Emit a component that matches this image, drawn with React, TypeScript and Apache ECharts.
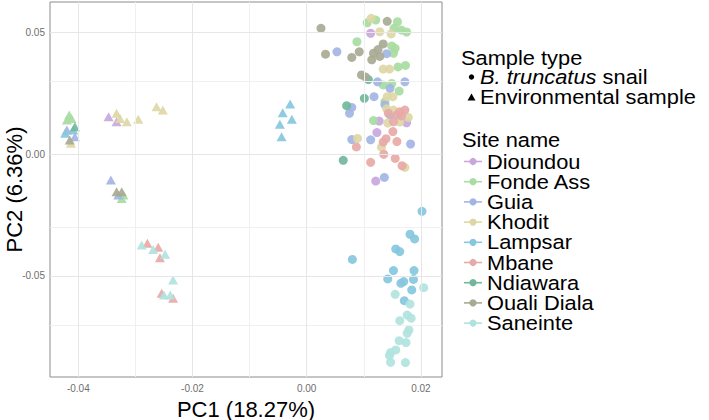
import { useEffect, useRef } from "react";
import * as echarts from "echarts";

const FONT = "'Liberation Sans', Arial, Helvetica, sans-serif";

const siteNames = [
  "Dioundou",
  "Fonde Ass",
  "Guia",
  "Khodit",
  "Lampsar",
  "Mbane",
  "Ndiawara",
  "Ouali Diala",
  "Saneinte",
];
const siteColors = [
  "#c8a7dd",
  "#a8dca2",
  "#a3b5e3",
  "#ddd7a6",
  "#86c7de",
  "#e7a9a7",
  "#72b79b",
  "#a8aa94",
  "#b1e3de",
];

// PC1 / PC2 scores, B. truncatus snail samples
const dioundouSnail = [[0.0112, 0.0495], [0.0127, 0.0135], [0.0175, 0.0128], [0.0123, 0.0088], [0.0121, -0.0111]];
const fondeAssSnail = [
  [0.0106, 0.0538], [0.0121, 0.0549], [0.0159, 0.0542], [0.0153, 0.0515], [0.0166, 0.0508], [0.0175, 0.05],
  [0.0088, 0.046], [0.0149, 0.0443], [0.0155, 0.0433], [0.0152, 0.0413], [0.016, 0.0357], [0.0173, 0.0363],
  [0.0134, 0.0283], [0.0149, 0.0289], [0.0162, 0.0258], [0.0137, 0.0214], [0.0117, 0.0137],
];
const guiaSnail = [
  [0.0053, 0.0419], [0.014, 0.0411], [0.0124, 0.0296], [0.0172, 0.0296], [0.0146, 0.0269], [0.0118, 0.0235],
  [0.0137, 0.0202], [0.0079, 0.0191], [0.0075, 0.0167], [0.0146, 0.016], [0.0079, 0.0059], [0.0112, 0.0058],
  [0.0182, 0.0041], [0.0136, -0.0096],
];
const khoditSnail = [
  [0.0113, 0.0556], [0.0128, 0.0501], [0.0148, 0.0492], [0.0134, 0.0348], [0.0145, 0.0348], [0.0141, 0.0235],
  [0.0151, 0.0235], [0.014, 0.0185], [0.0152, 0.018], [0.0178, 0.015], [0.0142, 0.0127], [0.0163, 0.0131],
  [0.0089, 0.0064], [0.0131, 0.0028], [0.0172, -0.0055],
];
const lampsarSnail = [
  [0.0202, -0.0235], [0.0181, -0.0329], [0.0189, -0.0348], [0.0156, -0.0389], [0.0163, -0.04], [0.008, -0.0432],
  [0.0152, -0.0478], [0.0188, -0.0478], [0.0142, -0.0512], [0.0165, -0.053], [0.017, -0.0523], [0.0187, -0.0514],
  [0.0184, -0.0557], [0.0171, -0.0601],
];
const mbaneSnail = [
  [0.0143, 0.0167], [0.0158, 0.016], [0.0163, 0.0173], [0.0172, 0.018], [0.0166, 0.0156], [0.0152, 0.0132],
  [0.0151, 0.0092], [0.0139, 0.0063], [0.0134, 0.0049], [0.0158, 0.0051], [0.0087, 0.0029], [0.0135, -0.0001],
  [0.0155, -0.0018], [0.0112, -0.0034], [0.0167, -0.0048],
];
const ndiawaraSnail = [[0.0108, 0.0305], [0.0101, 0.0228], [0.007, 0.0198], [0.0064, -0.0026]];
const oualiDialaSnail = [
  [0.0025, 0.0515], [0.0141, 0.0544], [0.0033, 0.0409], [0.0079, 0.0396], [0.0092, 0.0419], [0.0134, 0.0451],
  [0.0125, 0.0428], [0.0117, 0.0413], [0.0128, 0.04], [0.0114, 0.0386], [0.0096, 0.0324], [0.0103, 0.0316],
];
const saneinteSnail = [
  [0.0205, -0.0548], [0.0155, -0.0575], [0.0181, -0.0615], [0.0176, -0.066], [0.0183, -0.0673], [0.0163, -0.0683],
  [0.0179, -0.0721], [0.0176, -0.0735], [0.0162, -0.0765], [0.0174, -0.0773], [0.0156, -0.0803], [0.0147, -0.0814],
  [0.0145, -0.0826], [0.0147, -0.0854], [0.0173, -0.0855],
];

// PC1 / PC2 scores, environmental samples
const dioundouEnv = [[-0.0347, 0.0153], [-0.0333, 0.0132]];
const fondeAssEnv = [[-0.0416, 0.016], [-0.0412, 0.0146], [-0.042, 0.0139], [-0.0324, -0.0182], [-0.0321, -0.0168]];
const guiaEnv = [[-0.042, 0.0098], [-0.0406, 0.0071], [-0.0343, -0.0107], [-0.033, -0.0168]];
const khoditEnv = [
  [-0.0413, 0.0044], [-0.0333, 0.0167], [-0.0327, 0.0146], [-0.0315, 0.0132], [-0.0295, 0.0142],
  [-0.0263, 0.0194], [-0.0252, 0.018],
];
const lampsarEnv = [
  [-0.0409, 0.0098], [-0.0423, 0.0085], [-0.0029, 0.0205], [-0.0042, 0.0169], [-0.0026, 0.0142],
  [-0.0047, 0.0122], [-0.0044, 0.0071],
];
const mbaneEnv = [[-0.0279, -0.0366], [-0.026, -0.0382], [-0.0257, -0.0425], [-0.0254, -0.0571], [-0.0234, -0.0591]];
const ndiawaraEnv = [[-0.0406, 0.0112]];
const oualiDialaEnv = [[-0.0415, 0.0057], [-0.0333, -0.0155], [-0.0324, -0.0155]];
const saneinteEnv = [
  [-0.0289, -0.0373], [-0.0269, -0.0391], [-0.0248, -0.0411], [-0.0234, -0.0516], [-0.025, -0.0578],
  [-0.0239, -0.0578],
];

const snailScores = [
  dioundouSnail, fondeAssSnail, guiaSnail, khoditSnail, lampsarSnail,
  mbaneSnail, ndiawaraSnail, oualiDialaSnail, saneinteSnail,
];
const envScores = [
  dioundouEnv, fondeAssEnv, guiaEnv, khoditEnv, lampsarEnv,
  mbaneEnv, ndiawaraEnv, oualiDialaEnv, saneinteEnv,
];

// axis extents, tick labels and grid lines
const xRange = [-0.04496, 0.0237];
const yRange = [-0.0914, 0.0623];
const xTicks = [-0.04, -0.02, 0, 0.02];
const xMinorGrid = [-0.03, -0.01, 0.01];
const yTicks = [-0.05, 0, 0.05];
const yMinorGrid = [-0.075, -0.025, 0.025];

const sampleTypes = ["B. truncatus snail", "Environmental sample"];

const LEGEND_FONT = 19.5;
const LEGEND_SCALE_X = 1.12;

function buildLegend() {
  const els: any[] = [];
  const txt = (x: number, y: number, text: string, extra: any = {}) => ({
    type: "text",
    x,
    y,
    scaleX: LEGEND_SCALE_X,
    silent: true,
    style: {
      text,
      fontSize: LEGEND_FONT,
      fontFamily: FONT,
      fill: "#000",
      align: "left",
      verticalAlign: "middle",
      textAlign: "left",
      textVerticalAlign: "middle",
      ...extra,
    },
  });

  els.push(txt(461, 58, "Sample type"));
  // shape keys
  els.push({ type: "circle", silent: true, shape: { cx: 471.5, cy: 77, r: 2.7 }, style: { fill: "#000" } });
  const [genus, species, ...rest] = sampleTypes[0].split(" ");
  els.push(
    txt(480, 77, `{i|${genus} ${species}} {n|${rest.join(" ")}}`, {
      rich: {
        i: { fontStyle: "italic", fontSize: LEGEND_FONT, fontFamily: FONT, fill: "#000" },
        n: { fontSize: LEGEND_FONT, fontFamily: FONT, fill: "#000" },
      },
    })
  );
  els.push({
    type: "polygon",
    silent: true,
    shape: { points: [[471.5, 93.5], [475.5, 100.5], [467.5, 100.5]] },
    style: { fill: "#000" },
  });
  els.push(txt(480, 97, sampleTypes[1]));

  els.push(txt(462, 140, "Site name"));
  siteNames.forEach((name, i) => {
    const y = 161.5 + i * 20.2;
    els.push({
      type: "line",
      silent: true,
      shape: { x1: 464, y1: y, x2: 482, y2: y },
      style: { stroke: siteColors[i], lineWidth: 1.6 },
    });
    els.push({ type: "circle", silent: true, shape: { cx: 473, cy: y, r: 3.6 }, style: { fill: siteColors[i] } });
    els.push(txt(487, y, name));
  });
  return els;
}

export default function App() {
  const ref = useRef<HTMLDivElement>(null);

  useEffect(() => {
    if (!ref.current) return;
    const chart = echarts.init(ref.current, null, { renderer: "svg" });

    const gridLines = {
      type: "scatter",
      data: [],
      z: 0,
      silent: true,
      markLine: {
        silent: true,
        symbol: ["none", "none"],
        label: { show: false },
        emphasis: { disabled: true },
        animation: false,
        data: [
          ...xMinorGrid.map((v) => ({ xAxis: v, lineStyle: { color: "#f0f0f0", width: 1, type: "solid" } })),
          ...yMinorGrid.map((v) => ({ yAxis: v, lineStyle: { color: "#f0f0f0", width: 1, type: "solid" } })),
          ...xTicks.map((v) => ({ xAxis: v, lineStyle: { color: "#e6e6e6", width: 1, type: "solid" } })),
          ...yTicks.map((v) => ({ yAxis: v, lineStyle: { color: "#e6e6e6", width: 1, type: "solid" } })),
        ],
      },
    };

    const pointSeries: any[] = [];
    siteNames.forEach((name, i) => {
      pointSeries.push({
        name,
        type: "scatter",
        symbol: "circle",
        symbolSize: 9,
        data: snailScores[i],
        itemStyle: { color: siteColors[i], opacity: 0.92 },
        z: 3,
      });
      pointSeries.push({
        name,
        type: "scatter",
        symbol: "triangle",
        symbolSize: [10, 9],
        data: envScores[i],
        itemStyle: { color: siteColors[i], opacity: 0.92 },
        z: 3,
      });
    });

    chart.setOption({
      animation: false,
      backgroundColor: "#ffffff",
      grid: {
        left: 50,
        right: 267,
        top: 2,
        bottom: 43,
        containLabel: false,
        outerBoundsMode: "none",
        show: true,
        backgroundColor: "#ffffff",
        borderColor: "#8c8c8c",
        borderWidth: 1,
      },
      xAxis: {
        type: "value",
        min: xRange[0],
        max: xRange[1],
        axisLine: { show: false },
        axisTick: { show: true, customValues: xTicks, length: 3, lineStyle: { color: "#555" } },
        axisLabel: {
          customValues: xTicks,
          formatter: (v: number) => v.toFixed(2),
          color: "#6e6e6e",
          fontSize: 10,
          fontFamily: FONT,
          margin: 6,
        },
        splitLine: { show: false },
        name: "PC1 (18.27%)",
        nameLocation: "middle",
        nameGap: 21,
        nameMoveOverlap: false,
        nameTextStyle: { fontSize: 22, color: "#000", fontFamily: FONT },
      },
      yAxis: {
        type: "value",
        min: yRange[0],
        max: yRange[1],
        axisLine: { show: false },
        axisTick: { show: true, customValues: yTicks, length: 3, lineStyle: { color: "#555" } },
        axisLabel: {
          customValues: yTicks,
          formatter: (v: number) => v.toFixed(2),
          color: "#6e6e6e",
          fontSize: 10,
          fontFamily: FONT,
          margin: 5,
        },
        splitLine: { show: false },
        name: "PC2 (6.36%)",
        nameLocation: "middle",
        nameGap: 25,
        nameMoveOverlap: false,
        nameTextStyle: { fontSize: 22, color: "#000", fontFamily: FONT },
      },
      series: [gridLines, ...pointSeries],
      graphic: buildLegend(),
    });

    return () => chart.dispose();
  }, []);

  return (
    <div
      ref={ref}
      style={{ position: "fixed", left: 0, top: 0, width: 709, height: 420, background: "#fff" }}
    />
  );
}
